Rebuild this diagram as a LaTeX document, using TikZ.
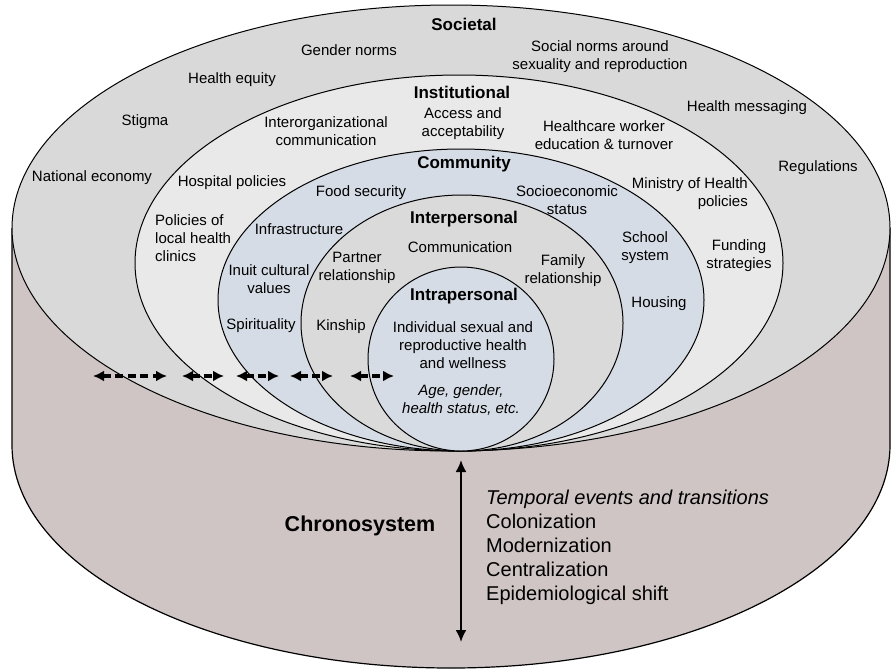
\documentclass[tikz,border=0pt]{standalone}
\usepackage{fontspec}
\setmainfont{Liberation Sans}
\usetikzlibrary{arrows.meta}
\definecolor{bodyc}{RGB}{207,197,196}
\definecolor{soc}{RGB}{217,217,217}
\definecolor{inst}{RGB}{233,233,233}
\definecolor{comm}{RGB}{214,220,229}
\definecolor{inter}{RGB}{218,218,218}
\definecolor{intra}{RGB}{214,220,229}
\begin{document}
\begin{tikzpicture}[x=1pt,y=-1pt,
  txt/.style={font=\fontsize{15}{18}\selectfont, align=center, inner sep=0pt},
  ttl/.style={font=\fontsize{17}{20}\selectfont\bfseries, inner sep=0pt},
  layer/.style={draw=black, line width=1pt},
  dasharr/.style={{Latex[length=11pt,width=11pt]}-{Latex[length=11pt,width=11pt]}, line width=3.2pt, dash pattern=on 8pt off 4.5pt},
  vertarr/.style={{Latex[length=12pt,width=11pt]}-{Latex[length=12pt,width=11pt]}, line width=2.2pt}
  ]
\useasboundingbox (0,0) rectangle (891,670);
% cylinder body
\fill[bodyc] (12,228) rectangle (890,445);
\fill[bodyc] (451,445) ellipse [x radius=439pt, y radius=223pt];
\draw[line width=1.2pt] (12,228) -- (12,445) arc[start angle=180,end angle=360,x radius=439pt,y radius=223pt] -- (890,228);
% nested ellipses
\path[layer, fill=soc] (451,228) ellipse [x radius=439pt, y radius=223pt];
\path[layer, fill=inst] (459,263) ellipse [x radius=324pt, y radius=188pt];
\path[layer, fill=comm] (461,300) ellipse [x radius=243pt, y radius=151pt];
\path[layer, fill=inter] (462,323) ellipse [x radius=161pt, y radius=128pt];
\path[layer, fill=intra] (461,359) ellipse [x radius=93pt, y radius=92pt];
% Societal
\node[ttl] (soct) at (464,24) {Societal};
\node[txt] (gen) at (349,50) {Gender norms};
\node[txt] (socn) at (600,57) {Social norms around\\sexuality and reproduction};
\node[txt] (heq) at (232,80) {Health equity};
\node[txt] (hmsg) at (747,108) {Health messaging};
\node[txt] (stig) at (145,122) {Stigma};
\node[txt] (reg) at (818,168) {Regulations};
\node[txt] (nat) at (92,178) {National economy};
% Institutional
\node[ttl] (inst) at (462,92) {Institutional};
\node[txt] (inter) at (326,131) {Interorganizational\\communication};
\node[txt] (acc) at (463,124) {Access and\\acceptability};
\node[txt] (hcw) at (604,135) {Healthcare worker\\education \& turnover};
\node[txt] (hosp) at (232,183) {Hospital policies};
\node[txt, align=left, anchor=west] (pol) at (155,238) {Policies of\\local health\\clinics};
\node[txt, align=right, anchor=east] (min) at (748,194) {Ministry of Health\\policies};
\node[txt] (fund) at (739,256) {Funding\\strategies};
% Community
\node[ttl] (comt) at (464,164) {Community};
\node[txt] (food) at (361,193) {Food security};
\node[txt] (ses) at (567,200) {Socioeconomic\\status};
\node[txt] (infra) at (299,229) {Infrastructure};
\node[txt] (school) at (645,248) {School\\system};
\node[txt] (inuit) at (269,279) {Inuit cultural\\values};
\node[txt] (house) at (659,304) {Housing};
\node[txt] (spir) at (261,326) {Spirituality};
% Interpersonal
\node[ttl] (intert) at (464,219) {Interpersonal};
\node[txt] (commu) at (460,247) {Communication};
\node[txt] (part) at (357,268) {Partner\\relationship};
\node[txt] (fam) at (563,271) {Family\\relationship};
\node[txt] (kin) at (341,327) {Kinship};
% Intrapersonal
\node[ttl] (intrat) at (464,296) {Intrapersonal};
\node[txt] (indiv) at (463,345) {Individual sexual and\\reproductive health\\and wellness};
\node[txt, font=\fontsize{15}{18}\selectfont\itshape] (age) at (461,400) {Age, gender,\\health status, etc.};
% dashed arrows
\coordinate (a1) at (93,376);  \coordinate (b1) at (167,376);
\coordinate (a2) at (182,376); \coordinate (b2) at (224,376);
\coordinate (a3) at (236,376); \coordinate (b3) at (279,376);
\coordinate (a4) at (290,376); \coordinate (b4) at (333,376);
\coordinate (a5) at (350,376); \coordinate (b5) at (394,376);
\foreach \i in {1,...,5}{\draw[dasharr] (a\i) -- (b\i);}
% chronosystem
\coordinate (ct) at (461,460);
\coordinate (cb) at (461,642);
\draw[vertarr] (ct) -- (cb);
\node[font=\fontsize{21.5}{24}\selectfont\bfseries, inner sep=0pt] (chrono) at (360,526) {Chronosystem};
\node[anchor=west, align=left, inner sep=0pt, font=\fontsize{20}{24}\selectfont] (events) at (486,547) {\textit{Temporal events and transitions}\\Colonization\\Modernization\\Centralization\\Epidemiological shift};
\end{tikzpicture}
\end{document}
